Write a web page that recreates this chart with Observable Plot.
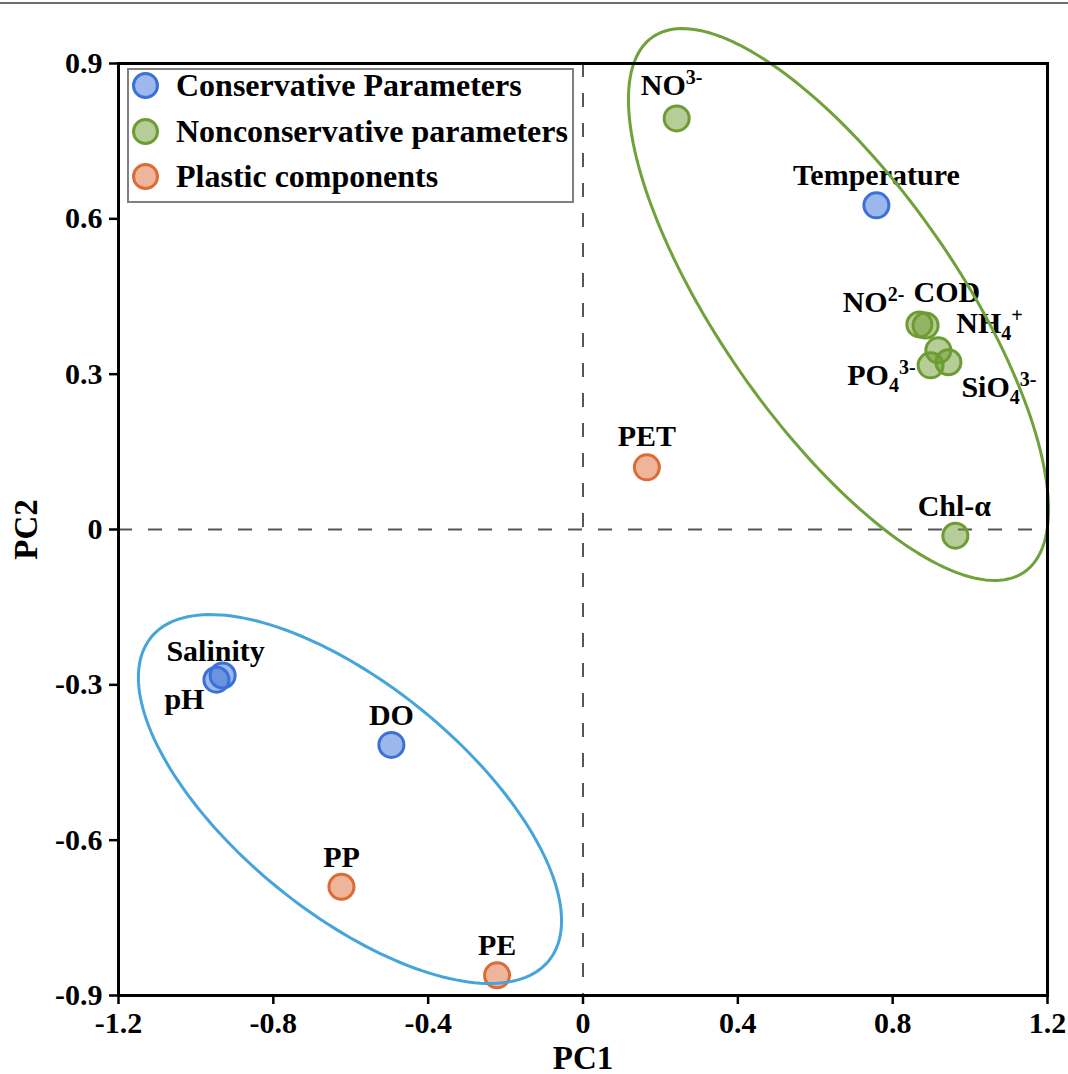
<!DOCTYPE html>
<html><head><meta charset="utf-8">
<script src="https://cdn.jsdelivr.net/npm/d3@7"></script>
<script src="https://cdn.jsdelivr.net/npm/@observablehq/plot@0.6"></script>
<style>
body{margin:0;background:#fff;}
#wrap{position:relative;width:1068px;height:1074px;font-family:"Liberation Serif","Times New Roman",serif;font-weight:bold;color:#000;}
#topline{position:absolute;left:0;top:2px;width:1068px;height:0;border-top:2px solid #6e6e6e;}
#legend{position:absolute;left:127px;top:68px;width:447px;height:135px;box-sizing:border-box;border:2px solid #808080;background:#fff;}
.item{position:absolute;left:3px;height:30px;display:flex;align-items:center;font-size:32px;white-space:nowrap;}
.sw{width:27px;height:27px;border-radius:50%;box-sizing:border-box;border:3px solid;margin-right:17px;flex:none;}
</style></head>
<body><div id="wrap"><div id="topline"></div></div>
<script>
// ---- data ----
const names  = ["Temperature","Salinity","pH","DO","NO3-","NO2-","COD","NH4+","PO43-","SiO43-","Chl-α","PET","PP","PE"];
const labels = ["Temperature","Salinity","pH","DO","NO^{3-}","NO^{2-}","COD","NH_{4}^{+}","PO_{4}^{3-}","SiO_{4}^{3-}","Chl-α","PET","PP","PE"];
const groups = ["Conservative Parameters","Conservative Parameters","Conservative Parameters","Conservative Parameters",
  "Nonconservative parameters","Nonconservative parameters","Nonconservative parameters","Nonconservative parameters",
  "Nonconservative parameters","Nonconservative parameters","Nonconservative parameters",
  "Plastic components","Plastic components","Plastic components"];
const pc1 = [0.758,-0.931,-0.947,-0.495,0.242,0.869,0.885,0.918,0.898,0.944,0.962,0.165,-0.624,-0.222];
const pc2 = [0.626,-0.282,-0.290,-0.416,0.794,0.396,0.394,0.346,0.317,0.323,-0.012,0.120,-0.690,-0.861];
const categories = ["Conservative Parameters","Nonconservative parameters","Plastic components"];
const xTicks = [-1.2,-0.8,-0.4,0,0.4,0.8,1.2];
const yTicks = [-0.9,-0.6,-0.3,0,0.3,0.6,0.9];
// confidence ellipses: centre in data units, semi-axes in px, rotation in degrees (screen)
const ellipseNames = ["nonconservative","conservative"];
const ellipseCx = [0.660,-0.602];
const ellipseCy = [0.4345,-0.5205];
const ellipseA  = [325.7,256.3];
const ellipseB  = [119.1,114.4];
const ellipseRot = [55.2,39.1];

// ---- styles / placement ----
const colors = ["#3a70d8","#6e9b32","#dd6b35"];
const ellipseColors = ["#6fa23a","#45a5da"];
const place = { // dx, dy, anchor
  "Temperature":[0,-20,"middle"], "Salinity":[-7,-15,"middle"], "pH":[-32,29,"middle"], "DO":[0,-20,"middle"],
  "NO3-":[-5,-23,"middle"], "NO2-":[-15,-12,"end"], "COD":[-12,-23,"start"], "NH4+":[18,-17,"start"],
  "PO43-":[-15,20,"end"], "SiO43-":[13,35,"start"], "Chl-α":[-1,-20,"middle"], "PET":[0,-21,"middle"],
  "PP":[0,-20,"middle"], "PE":[0,-20,"middle"]
};
const W=1068,H=1074,ML=118,MR=21,MT=63,MB=79;
const kx=(W-ML-MR)/2.4, ky=(H-MT-MB)/1.8;

const data = names.map((n,i)=>({name:n,label:labels[i],group:groups[i],x:pc1[i],y:pc2[i]}));
const ell = ellipseNames.map((g,j)=>{
  const pts=[]; const f=ellipseRot[j]*Math.PI/180;
  for(let i=0;i<360;i+=2){const t=i*Math.PI/180;const u=ellipseA[j]*Math.cos(t),v=ellipseB[j]*Math.sin(t);
    pts.push({x:ellipseCx[j]+(u*Math.cos(f)-v*Math.sin(f))/kx, y:ellipseCy[j]-(u*Math.sin(f)+v*Math.cos(f))/ky});}
  return pts;
});
const fmt = d => d===0 ? "0" : d3.format(".1f")(d).replace("−","-");
const font = {fontWeight:"bold"};

const marks = [
  Plot.ruleX([0],{stroke:"#555",strokeWidth:2,strokeDasharray:"14,16"}),
  Plot.ruleY([0],{stroke:"#555",strokeWidth:2,strokeDasharray:"14,16"}),
  Plot.dot(data,{x:"x",y:"y",r:12.5,fill:"group",stroke:"group",fillOpacity:0.5,strokeWidth:3}),
  ...data.map(d=>{const p=place[d.name];return Plot.text([d],{x:"x",y:"y",text:"label",dx:p[0],dy:p[1],textAnchor:p[2],lineAnchor:"bottom",fontSize:30,...font});}),
  ...ell.map((pts,j)=>Plot.line(pts,{x:"x",y:"y",curve:"linear-closed",stroke:ellipseColors[j],strokeWidth:3})),
  Plot.frame({stroke:"black",strokeWidth:3}),
  Plot.axisX({ticks:xTicks,tickFormat:fmt,tickSize:9,tickPadding:7,fontSize:30,strokeWidth:2.5,label:null,...font}),
  Plot.axisY({ticks:yTicks,tickFormat:fmt,tickSize:9,tickPadding:7,fontSize:30,strokeWidth:2.5,label:null,...font}),
  Plot.text(["PC1"],{frameAnchor:"bottom",text:d=>d,dy:73,textAnchor:"middle",lineAnchor:"bottom",fontSize:33,...font}),
  Plot.text(["PC2"],{frameAnchor:"left",text:d=>d,dx:-92,rotate:-90,textAnchor:"middle",lineAnchor:"middle",fontSize:33,...font})
];

const chart = Plot.plot({
  width:W,height:H,marginLeft:ML,marginRight:MR,marginTop:MT,marginBottom:MB,
  x:{domain:[-1.2,1.2]}, y:{domain:[-0.9,0.9]},
  color:{domain:categories,range:colors},
  style:{fontFamily:'"Liberation Serif","Times New Roman",serif',background:"transparent",color:"#000",overflow:"visible"},
  marks
});
// render sub/superscripts as tspans
chart.querySelectorAll("text").forEach(t=>{
  const s=t.textContent; if(!/[_^]\{/.test(s)) return;
  const toks=s.match(/\^\{[^}]*\}|_\{[^}]*\}|[^^_]+/g); t.textContent="";
  let off=0;
  toks.forEach(tok=>{
    const ts=document.createElementNS("http://www.w3.org/2000/svg","tspan");
    let target=0,txt=tok;
    if(tok.startsWith("^{")){target=-11;txt=tok.slice(2,-1);ts.setAttribute("font-size","20");}
    else if(tok.startsWith("_{")){target=7;txt=tok.slice(2,-1);ts.setAttribute("font-size","20");}
    ts.setAttribute("dy",target-off); off=target; ts.textContent=txt; t.appendChild(ts);
  });
});
const wrap=document.getElementById("wrap");
wrap.appendChild(chart);
chart.style.position="absolute";chart.style.left="0";chart.style.top="0";

// legend
const lg=document.createElement("div"); lg.id="legend";
const tops=[0,46.7,91.7];
categories.forEach((c,i)=>{
  const it=document.createElement("div"); it.className="item"; it.style.top=tops[i]+"px";
  const sw=document.createElement("span"); sw.className="sw"; sw.style.borderColor=colors[i];
  sw.style.background=d3.interpolateRgb("white",colors[i])(0.5);
  const tx=document.createElement("span"); tx.textContent=c;
  it.appendChild(sw); it.appendChild(tx); lg.appendChild(it);
});
wrap.appendChild(lg);
</script>
</body></html>
